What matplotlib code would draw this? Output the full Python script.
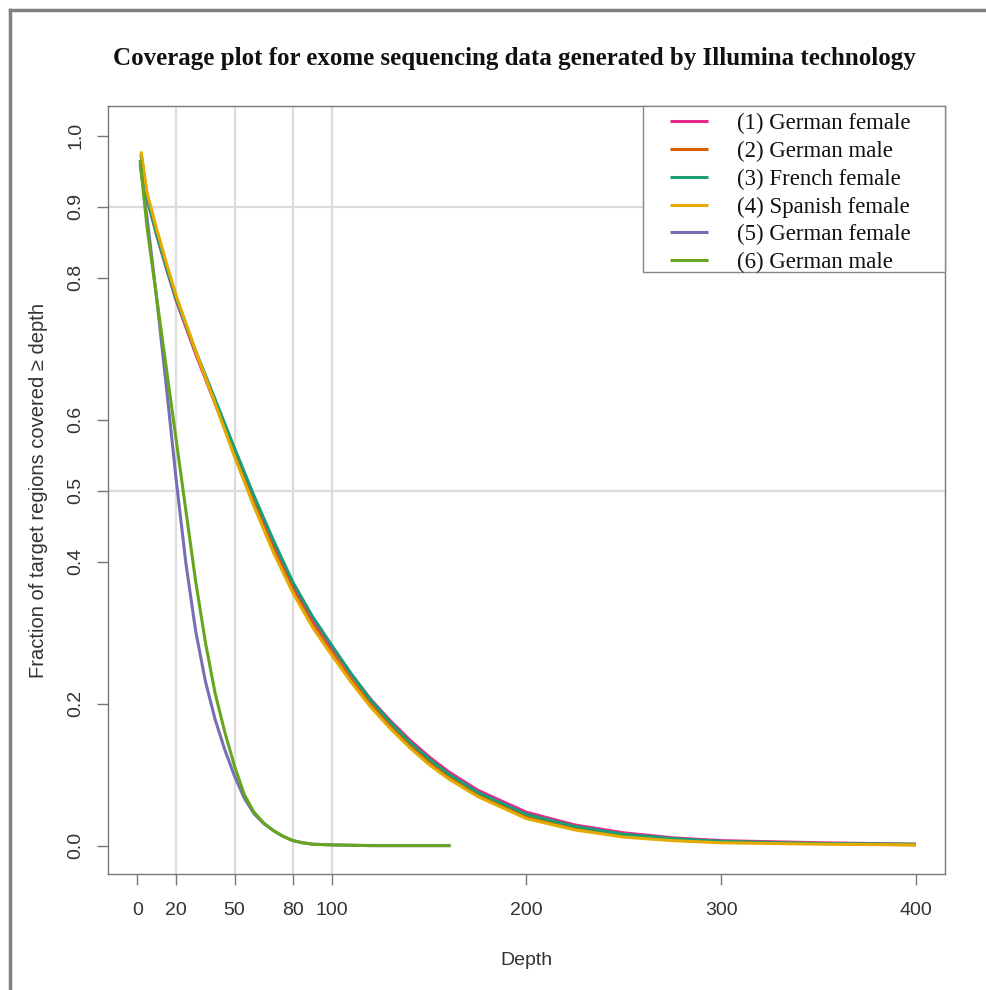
import numpy as np
import matplotlib.pyplot as plt
from matplotlib.lines import Line2D
from matplotlib.patches import Rectangle

# depth values (samples 1-4, deeper sequencing)
depth_a = [2, 5, 10, 15, 20, 30, 40, 50, 60, 70, 80, 90, 100, 110, 120, 130,
           140, 150, 160, 175, 200, 225, 250, 275, 300, 350, 400]
german_female_1 = [0.972, 0.912, 0.860, 0.813, 0.768, 0.693, 0.623, 0.553, 0.487,
                   0.424, 0.366, 0.319, 0.279, 0.241, 0.206, 0.176, 0.149, 0.125,
                   0.104, 0.078, 0.047, 0.029, 0.018, 0.011, 0.007, 0.004, 0.002]
german_male_2 = [0.975, 0.917, 0.865, 0.818, 0.772, 0.696, 0.624, 0.551, 0.482,
                 0.418, 0.360, 0.312, 0.272, 0.234, 0.199, 0.169, 0.142, 0.118,
                 0.097, 0.072, 0.041, 0.024, 0.014, 0.008, 0.005, 0.003, 0.001]
french_female_3 = [0.972, 0.912, 0.861, 0.814, 0.770, 0.697, 0.629, 0.560, 0.493,
                   0.430, 0.371, 0.323, 0.282, 0.242, 0.205, 0.174, 0.146, 0.122,
                   0.101, 0.075, 0.044, 0.027, 0.016, 0.010, 0.006, 0.003, 0.002]
spanish_female_4 = [0.978, 0.920, 0.869, 0.821, 0.775, 0.697, 0.623, 0.548, 0.478,
                    0.413, 0.356, 0.308, 0.268, 0.230, 0.195, 0.165, 0.138, 0.114,
                    0.094, 0.069, 0.038, 0.022, 0.012, 0.007, 0.004, 0.002, 0.001]

# samples 5-6, shallower sequencing
depth_b = [1.5, 5, 10, 15, 20, 25, 30, 35, 40, 45, 50, 55, 60, 65, 70, 75, 80,
           85, 90, 100, 120, 161]
german_female_5 = [0.960, 0.886, 0.771, 0.646, 0.516, 0.398, 0.303, 0.232, 0.178,
                   0.135, 0.098, 0.067, 0.045, 0.031, 0.021, 0.013, 0.007, 0.004,
                   0.002, 0.001, 0.0, 0.0]
german_male_6 = [0.966, 0.872, 0.772, 0.672, 0.572, 0.472, 0.373, 0.287, 0.215,
                 0.160, 0.112, 0.072, 0.047, 0.032, 0.021, 0.013, 0.007, 0.004,
                 0.002, 0.001, 0.0, 0.0]

labels = ['(1) German female', '(2) German male', '(3) French female',
          '(4) Spanish female', '(5) German female', '(6) German male']
colors = ['#E7298A', '#D95F02', '#1B9E77', '#E6AB02', '#7570B3', '#66A61E']
series = [(depth_a, german_female_1), (depth_a, german_male_2),
          (depth_a, french_female_3), (depth_a, spanish_female_4),
          (depth_b, german_female_5), (depth_b, german_male_6)]

x_ticks = [0, 20, 50, 80, 100, 200, 300, 400]
y_ticks = [0.0, 0.2, 0.4, 0.5, 0.6, 0.8, 0.9, 1.0]
v_grid = [20, 50, 80, 100]
h_grid = [0.5, 0.9]

plt.rcParams['font.family'] = 'Liberation Sans'

W, H = 987, 990
fig = plt.figure(figsize=(W / 100, H / 100), dpi=100)
ax = fig.add_axes([108 / W, 1 - 874 / H, 837 / W, 768 / H])

for v in v_grid:
    ax.axvline(v, color='#dcdcdc', lw=1.6, zorder=0)
for h in h_grid:
    ax.axhline(h, color='#dcdcdc', lw=1.6, zorder=0)

for (d, vals), c, lab in zip(series, colors, labels):
    ax.plot(d, vals, color=c, lw=2.2, label=lab, solid_capstyle='butt')

ax.set_xlim(-15, 415)
ax.set_ylim(-0.04, 1.042)
ax.set_xticks(x_ticks)
ax.set_yticks(y_ticks)
ax.set_xticklabels([str(t) for t in x_ticks])
ax.set_yticklabels(['%.1f' % t for t in y_ticks], rotation=90, va='center')
ax.tick_params(length=8, width=1, color='#777777', labelsize=14,
               labelcolor='#333333', pad=9)
ax.tick_params(axis='x', pad=12)
for s in ax.spines.values():
    s.set_color('#777777')
    s.set_linewidth(1)

ax.set_xlabel('Depth', fontsize=14, color='#333333', labelpad=24)
ax.set_ylabel('Fraction of target regions covered \u2265 depth', fontsize=14.5,
              color='#333333', labelpad=14)

# legend box sits in the top right corner of the plot
box = Rectangle((643 / W, 1 - 272 / H), 302 / W, 166 / H, transform=fig.transFigure,
                facecolor='white', edgecolor='#888888', lw=1, zorder=4, clip_on=False)
ax.add_patch(box)
leg = ax.legend(loc='upper left', bbox_to_anchor=(670 / W, 1 - 113 / H),
                bbox_transform=fig.transFigure, frameon=False,
                prop={'family': 'Liberation Serif', 'size': 16.5},
                handlelength=1.66, handletextpad=1.27, labelspacing=0.29,
                borderpad=0, borderaxespad=0)
for t in leg.get_texts():
    t.set_color('#111111')

fig.text(514 / W, 1 - 59 / H,
         'Coverage plot for exome sequencing data generated by Illumina technology',
         family='Liberation Serif', weight='bold', fontsize=18, ha='center',
         va='center', color='#111111')

# screenshot frame on the left and top
fig.add_artist(Line2D([10 / W, 10 / W], [0, 1 - 10 / H],
                      transform=fig.transFigure, color='#808080', lw=2.5))
fig.add_artist(Line2D([10 / W, 1], [1 - 10 / H, 1 - 10 / H],
                      transform=fig.transFigure, color='#808080', lw=2.5))

fig.savefig('out.png', dpi=100)
